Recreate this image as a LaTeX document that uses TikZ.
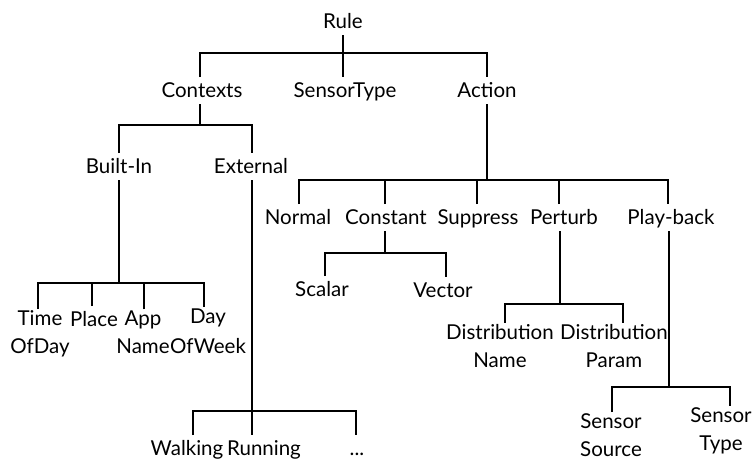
\documentclass[tikz,border=0pt]{standalone}
\usepackage{fontspec}
\setmainfont{Lato}
\begin{document}
\begin{tikzpicture}[x=1pt,y=-1pt,
  base lbl/.style={inner xsep=0pt, inner ysep=6pt, outer sep=0pt, anchor=base,
    align=center, font=\fontsize{20.5}{28}\selectfont},
  lbl/.style={base lbl, text height=14pt, text depth=1pt},
  % two-line labels: placed by the baseline of their second line
  lbltwo/.style={base lbl, inner ysep=1pt},
  link/.style={draw=black, line width=1.5pt}]
\useasboundingbox (0,0) rectangle (753,459);
\clip (0,0) rectangle (753,459);

% labels
\node[lbl] (rule)   at (343,28)  {Rule};
\node[lbl] (ctx)    at (202,97)  {Contexts};
\node[lbl] (sens)   at (345,97)  {SensorType};
\node[lbl] (act)    at (487,97)  {Action};
\node[lbl] (bin)    at (119,173) {Built-In};
\node[lbl] (ext)    at (251,173) {External};
\node[lbl] (normal) at (298,224) {Normal};
\node[lbl] (const)  at (386,224) {Constant};
\node[lbl] (supp)   at (478,224) {Suppress};
\node[lbl] (pert)   at (564,224) {Perturb};
\node[lbl] (play)   at (671,224) {Play-back};
\node[lbl] (scalar) at (322,296) {Scalar};
\node[lbl] (vector) at (443,297) {Vector};
\node[lbl] (place)  at (94,326)  {Place};
\node[lbltwo] (time)   at (40,353)  {Time\\OfDay};
\node[lbltwo] (app)    at (143,353) {App\\Name};
\node[lbltwo] (day)    at (208,353) {Day\\[2pt]OfWeek};
\node[lbltwo] (dname)  at (500,367) {Distribution\\Name};
\node[lbltwo] (dparam) at (614,367) {Distribution\\Param};
\node[lbltwo] (ssrc)   at (611,456) {Sensor\\Source};
\node[lbltwo] (stype)  at (721,450) {Sensor\\Type};
\node[lbl] (walk)   at (187,455) {Walking};
\node[lbl] (run)    at (264,455) {Running};
\node[lbl] (dots)   at (357,455) {...};

% junctions on the horizontal bars
\coordinate (jR) at (343,53);
\coordinate (jC) at (200,125);
\coordinate (jB) at (119,283);
\coordinate (jE) at (252,411);
\coordinate (jA) at (487,180);
\coordinate (jK) at (385,253);
\coordinate (jP) at (560,304);
\coordinate (jY) at (669,387);

% Rule
\draw[link] ([xshift=-2pt]ctx.north) |- (jR) -| (act.north);
\draw[link] (rule.south) -- (rule.south |- sens.north);
% Contexts
\draw[link] ([xshift=-2pt]ctx.south) -- (jC);
\draw[link] (bin.north) |- (jC) -| ([xshift=1pt]ext.north);
% Built-In
\draw[link] (bin.south) -- (jB);
\draw[link] ([xshift=-2pt]time.north) |- (jB) -| ([xshift=-4pt]day.north);
\draw[link] ([xshift=-2pt]place.north) -- ([xshift=-2pt]place.north |- jB);
\draw[link] ([xshift=1pt]app.north) -- ([xshift=1pt]app.north |- jB);
% External
\draw[link] ([xshift=1pt]ext.south) -- ([xshift=1pt]ext.south |- run.north);
\draw[link] ([xshift=6pt]walk.north) |- (jE) -| ([xshift=-1pt]dots.north);
% Action
\draw[link] (act.south) -- (jA);
\draw[link] ([xshift=1pt]normal.north) |- (jA) -| ([xshift=-3pt]play.north);
\draw[link] ([xshift=-1pt]const.north) -- ([xshift=-1pt]const.north |- jA);
\draw[link] ([xshift=-1pt]supp.north) -- ([xshift=-1pt]supp.north |- jA);
\draw[link] ([xshift=-5pt]pert.north) -- ([xshift=-5pt]pert.north |- jA);
% Constant
\draw[link] ([xshift=-1pt]const.south) -- (jK);
\draw[link] ([xshift=3pt]scalar.north) |- (jK) -| ([xshift=3pt]vector.north);
% Perturb
\draw[link] ([xshift=-4pt]pert.south) -- (jP);
\draw[link] ([xshift=5pt]dname.north) |- (jP) -| ([xshift=9pt]dparam.north);
% Play-back
\draw[link] ([xshift=-2pt]play.south) -- (jY);
\draw[link] ([xshift=1pt]ssrc.north) |- (jY) -| ([xshift=9pt]stype.north);
\end{tikzpicture}
\end{document}
